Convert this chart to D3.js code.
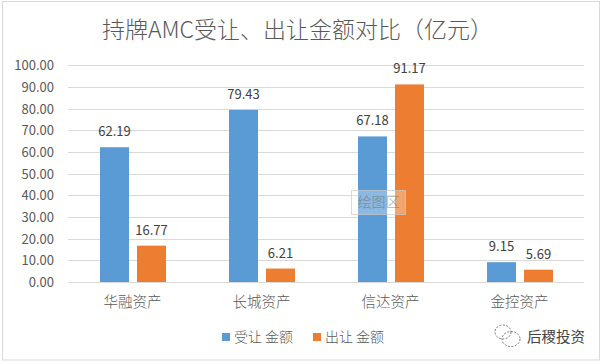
<!DOCTYPE html>
<html><head><meta charset="utf-8">
<script src="https://cdn.jsdelivr.net/npm/d3@7/dist/d3.min.js"></script>
<style>html,body{margin:0;padding:0;background:#fff}svg{display:block}
text{font-family:"Noto Sans CJK SC","Liberation Sans",sans-serif}</style></head>
<body><svg id="c" width="606" height="364"></svg>
<script>
const categories=["华融资产","长城资产","信达资产","金控资产"];
const seriesNames=["受让 金额","出让 金额"];
const received=[62.19,79.43,67.18,9.15];
const transferred=[16.77,6.21,91.17,5.69];
const ticks=[0,10,20,30,40,50,60,70,80,90,100];
const colors=["#5b9bd5","#ed7d31"];
const title="持牌AMC受让、出让金额对比（亿元）";

const svg=d3.select("#c");
svg.append("rect").attr("x",2.5).attr("y",1.5).attr("width",597).attr("height",358.5)
  .attr("fill","#fff").attr("stroke","#d9d9d9");
const x=d3.scaleBand().domain(categories).range([68,584]);
const x1=d3.scaleBand().domain([0,1]).range([32,98]).paddingInner(8/37);
const y=d3.scaleLinear().domain([0,100]).range([282,65.3]);

svg.append("text").attr("x",297.5).attr("y",38).attr("text-anchor","middle")
  .attr("font-size",23).attr("font-weight",300).attr("fill","#595959").text(title);

const grid=svg.append("g");
grid.selectAll("line").data(ticks).join("line")
  .attr("x1",68).attr("x2",584).attr("y1",d=>Math.round(y(d))+.5).attr("y2",d=>Math.round(y(d))+.5)
  .attr("stroke","#d9d9d9").attr("stroke-width",1);
svg.append("g").selectAll("text").data(ticks).join("text")
  .attr("x",54).attr("y",d=>y(d)+5).attr("text-anchor","end")
  .attr("font-size",13).attr("fill","#595959").text(d=>d3.format(".2f")(d));

[received,transferred].forEach((vals,s)=>{
  const g=svg.append("g");
  g.selectAll("rect").data(vals).join("rect")
    .attr("x",(d,i)=>x(categories[i])+x1(s)).attr("width",x1.bandwidth())
    .attr("y",d=>y(d)).attr("height",d=>y(0)-y(d)).attr("fill",colors[s]);
  g.selectAll("text").data(vals).join("text")
    .attr("x",(d,i)=>x(categories[i])+x1(s)+x1.bandwidth()/2)
    .attr("y",d=>y(d)-11).attr("text-anchor","middle")
    .attr("font-size",13).attr("fill","#404040").text(d=>d3.format(".2f")(d));
});

svg.append("g").selectAll("text").data(categories).join("text")
  .attr("x",d=>x(d)+x.bandwidth()/2).attr("y",307).attr("text-anchor","middle")
  .attr("font-size",14.5).attr("font-weight",300).attr("fill","#595959").text(d=>d);

const lg=[[222,234],[313,325]];
seriesNames.forEach((n,i)=>{
  svg.append("rect").attr("x",lg[i][0]).attr("y",333).attr("width",8).attr("height",8).attr("fill",colors[i]);
  svg.append("text").attr("x",lg[i][1]).attr("y",342).attr("font-size",14).attr("font-weight",300).attr("fill","#595959").text(n);
});

// tooltip
const tt=svg.append("g");
tt.append("rect").attr("x",351.5).attr("y",190.5).attr("width",54).attr("height",24)
  .attr("fill","#fff").attr("fill-opacity",.3).attr("stroke","#ccc").attr("stroke-opacity",.7);
tt.append("text").attr("x",378.5).attr("y",207).attr("text-anchor","middle")
  .attr("font-size",14).attr("fill","#595959").attr("fill-opacity",.4).text("绘图区");

// watermark
const wm=svg.append("g").attr("fill","none").attr("stroke","#777").attr("stroke-width",1).attr("stroke-dasharray","2 1.5");
wm.append("ellipse").attr("cx",503).attr("cy",332).attr("rx",8).attr("ry",7);
wm.append("ellipse").attr("cx",511).attr("cy",339).attr("rx",9).attr("ry",7.5);
svg.append("text").attr("x",527).attr("y",342).attr("font-size",14.5).attr("fill","#444").text("后稷投资");
</script></body></html>
